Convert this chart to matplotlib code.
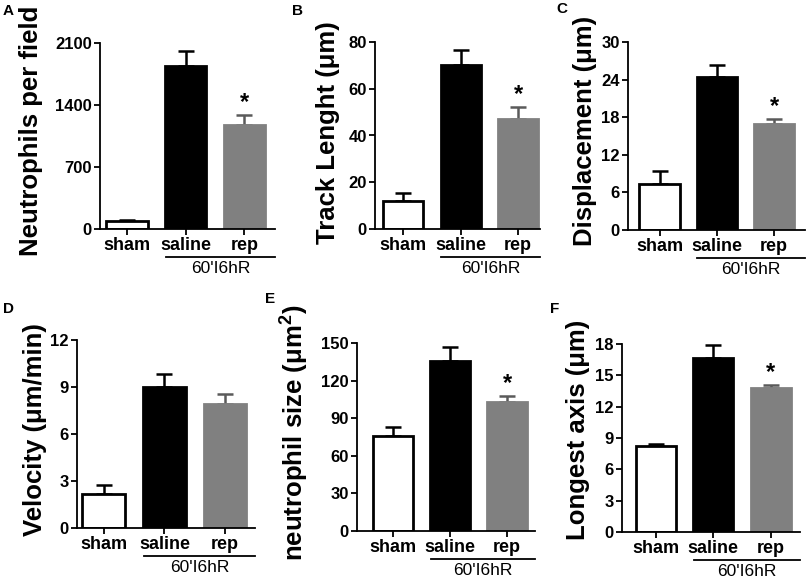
import matplotlib
matplotlib.use("Agg")
import matplotlib.pyplot as plt
import matplotlib.transforms as mtransforms

plt.rcParams['font.family'] = ['Liberation Sans', 'DejaVu Sans']
plt.rcParams['mathtext.fontset'] = 'custom'
plt.rcParams['mathtext.rm'] = 'Liberation Sans:bold'
plt.rcParams['mathtext.bf'] = 'Liberation Sans:bold'

# data
groups = ['sham', 'saline', 'rep']
group_label = "60'I6hR"

neutrophils = [90, 1845, 1170]
neutrophils_err = [12, 165, 117]
track = [12.0, 70.2, 47.2]
track_err = [3.4, 6.4, 5.0]
displacement = [7.3, 24.4, 16.9]
displacement_err = [2.1, 2.0, 0.8]
velocity = [2.19, 9.0, 7.92]
velocity_err = [0.57, 0.83, 0.62]
cell_size = [76, 135.3, 102.8]
cell_size_err = [7.3, 11.2, 5.0]
longest = [8.2, 16.66, 13.79]
longest_err = [0.26, 1.28, 0.25]

# panel letter, values, errors, ylabel, yticks, star on rep
panels = [
    ('A', neutrophils, neutrophils_err, 'Neutrophils per field', [0, 700, 1400, 2100], True),
    ('B', track, track_err, 'Track Lenght (μm)', [0, 20, 40, 60, 80], True),
    ('C', displacement, displacement_err, 'Displacement (μm)', [0, 6, 12, 18, 24, 30], True),
    ('D', velocity, velocity_err, 'Velocity (μm/min)', [0, 3, 6, 9, 12], False),
    ('E', cell_size, cell_size_err, r'neutrophil size (μm$^{2}$)', [0, 30, 60, 90, 120, 150], True),
    ('F', longest, longest_err, 'Longest axis (μm)', [0, 3, 6, 9, 12, 15, 18], True),
]

# layout (pixels in a 808x582 figure)
W, H = 808, 582
rects = [(100, 43, 275, 229), (375, 42, 540, 229), (628, 42, 805, 230),
         (77, 340, 255, 528), (357, 343, 535, 531), (622, 344, 800, 532)]
xlims = [(-0.46, 2.52), (-0.49, 2.38), (-0.55, 2.54),
         (-0.44, 2.49), (-0.63, 2.49), (-0.59, 2.51)]
label_xy = [(-0.326, 0.527), (-0.212, 0.513), (-0.175, 0.527),
            (-0.169, 0.521), (-0.264, 0.52), (-0.18, 0.543)]
letter_xy = [(3, 4), (292, 4), (556, 2), (3, 302), (265, 292), (550, 302)]

face = ['white', 'black', '#808080']
edge = ['black', 'black', '#808080']
err_col = ['black', 'black', '#5a5a5a']

fig = plt.figure(figsize=(W / 100, H / 100), dpi=100)

for i, (letter, vals, errs, ylab, ticks, star) in enumerate(panels):
    l, t, r, b = rects[i]
    ax = fig.add_axes([l / W, 1 - b / H, (r - l) / W, (b - t) / H])
    x = range(len(groups))
    ax.bar(x, vals, width=0.7, color=face, edgecolor=edge, linewidth=2.0, zorder=2)
    for j in x:
        ax.errorbar(j, vals[j], yerr=[[0], [errs[j]]], fmt='none',
                    ecolor=err_col[j], elinewidth=1.8, capsize=6, capthick=1.8, zorder=1)
    if star:
        ax.text(2, vals[2] + errs[2] + ticks[-1] * 0.005, '*', ha='center', va='bottom',
                fontsize=17, fontweight='bold')
    ax.set_ylim(0, ticks[-1])
    ax.set_yticks(ticks)
    ax.set_xlim(*xlims[i])
    ax.set_xticks(list(x))
    ax.set_xticklabels(groups, fontsize=13, fontweight='bold')
    for lab in ax.get_yticklabels():
        lab.set_fontsize(12)
        lab.set_fontweight('bold')
    ax.spines['top'].set_visible(False)
    ax.spines['right'].set_visible(False)
    ax.spines['left'].set_linewidth(1.3)
    ax.spines['bottom'].set_linewidth(1.3)
    ax.tick_params(axis='both', width=1.3, length=4, pad=2)
    ax.set_ylabel(ylab, fontsize=18.5, fontweight='bold')
    ax.yaxis.set_label_coords(*label_xy[i])

    # group underline and label
    trans = mtransforms.blended_transform_factory(ax.transData, ax.transAxes)
    x0, x1 = 0.66, xlims[i][1]
    ax.plot([x0, x1], [-0.15, -0.15], color='black', lw=1.3, transform=trans, clip_on=False)
    ax.text((x0 + x1) / 2, -0.17, group_label, ha='center', va='top', fontsize=12.5,
            transform=trans)

    fig.text(letter_xy[i][0] / W, 1 - letter_xy[i][1] / H, letter, ha='left', va='top',
             fontsize=11, fontweight='bold')

fig.savefig('out.png', dpi=100)
